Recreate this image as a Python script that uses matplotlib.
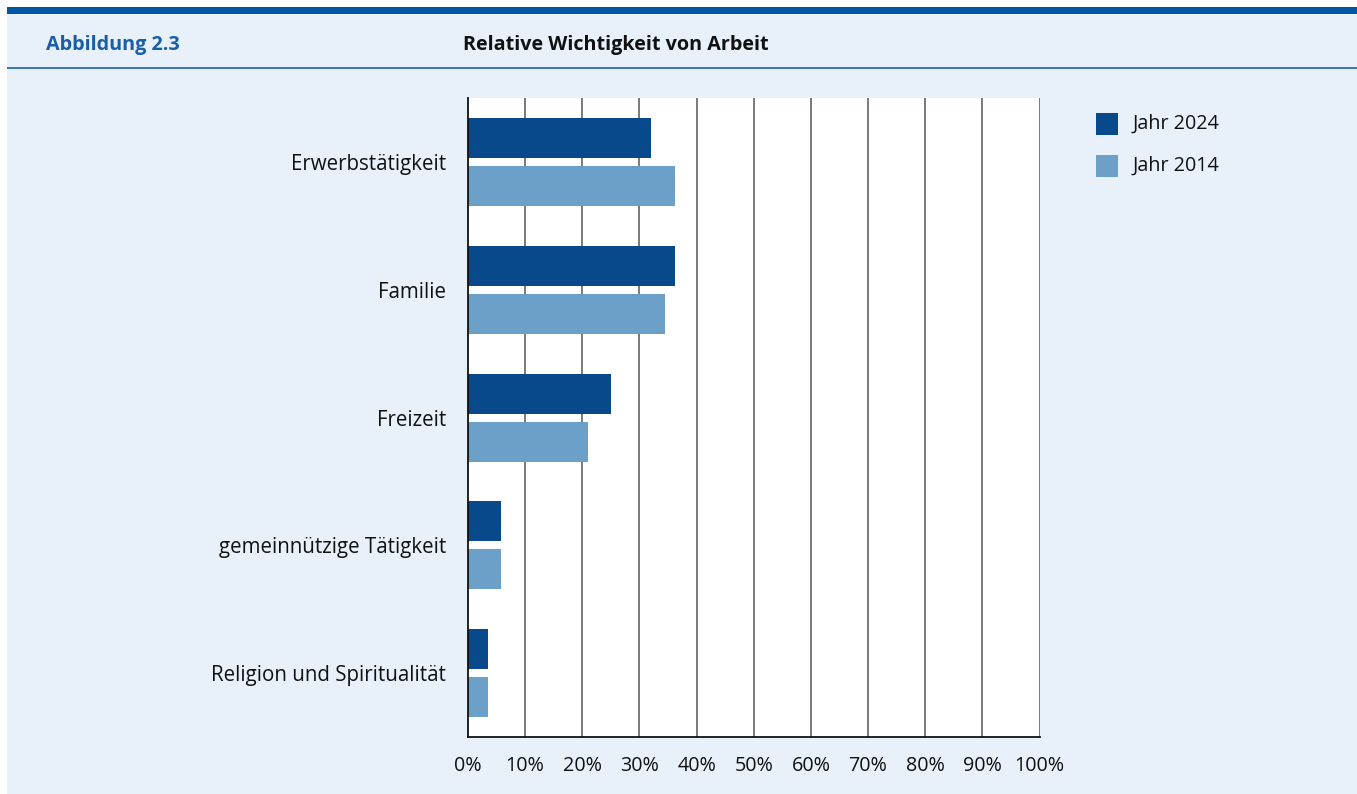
import matplotlib
matplotlib.use("Agg")
import matplotlib.pyplot as plt
from matplotlib.patches import Rectangle
import numpy as np

plt.rcParams['font.family'] = ['Open Sans', 'DejaVu Sans']

categories = ["Erwerbstätigkeit", "Familie", "Freizeit",
              "gemeinnützige Tätigkeit", "Religion und Spiritualität"]
series_names = ["Jahr 2024", "Jahr 2014"]
values_2024 = [32.1, 36.3, 25.0, 5.8, 3.5]
values_2014 = [36.3, 34.5, 21.0, 5.8, 3.5]
xticks = [0, 10, 20, 30, 40, 50, 60, 70, 80, 90, 100]
xtick_labels = [f"{t}%" for t in xticks]

dark = "#07498a"
light = "#6ca0c8"
series_colors = [dark, light]
bg = "#e8f0fa"
topblue = "#0055a4"
headblue = "#1a5ea8"
FS = 14.2

W, H = 1357, 794
fig = plt.figure(figsize=(W / 100, H / 100), dpi=100)
fig.patch.set_facecolor("white")

# background panel
fig.add_artist(Rectangle((7 / W, 0), 1 - 7 / W, 1 - 7 / H, transform=fig.transFigure,
                         facecolor=bg, edgecolor="none", zorder=0))
# top thick bar
fig.add_artist(Rectangle((7 / W, 1 - 14 / H), 1 - 7 / W, 7 / H, transform=fig.transFigure,
                         facecolor=topblue, edgecolor="none", zorder=1))
# header separator
fig.add_artist(Rectangle((7 / W, 1 - 68.5 / H), 1 - 7 / W, 2 / H, transform=fig.transFigure,
                         facecolor="#3a78b8", edgecolor="none", zorder=1))

fig.text(46 / W, 1 - 45 / H, "Abbildung 2.3", color=headblue, fontsize=FS,
         fontweight="bold", ha="left", va="center")
fig.text(463 / W, 1 - 45 / H, "Relative Wichtigkeit von Arbeit", color="#111111",
         fontsize=FS, fontweight="bold", ha="left", va="center")

left, right, top, bottom = 468 / W, 1039.5 / W, 98 / H, 737 / H
ax = fig.add_axes([left, 1 - bottom, right - left, bottom - top])
ax.set_facecolor("white")

y = np.arange(len(categories))
bh = 40 / 127.8
off = 24 / 127.8
ax.barh(y - off, values_2024, height=bh, color=dark, label=series_names[0], zorder=3)
ax.barh(y + off, values_2014, height=bh, color=light, label=series_names[1], zorder=3)

ax.set_xlim(0, 100)
ax.set_ylim(len(categories) - 0.5, -0.5)
ax.set_xticks(xticks)
ax.set_xticklabels(xtick_labels)
ax.set_yticks(y)
ax.set_yticklabels(categories)
ax.tick_params(axis="both", length=0, labelsize=FS, colors="#111111")
ax.tick_params(axis="x", pad=13.5)
ax.tick_params(axis="y", pad=16, labelsize=14.8)

for t in xticks[1:]:
    ax.axvline(t, color="#6e6e6e", linewidth=1.3, zorder=1)

for s in ["top", "right"]:
    ax.spines[s].set_visible(False)
for s in ["left", "bottom"]:
    ax.spines[s].set_color("#111111")
    ax.spines[s].set_linewidth(1.3)
    ax.spines[s].set_zorder(4)

# legend (drawn manually to match the square swatches)
for i, (name, col) in enumerate(zip(series_names, series_colors)):
    ytop = 113 + i * 42
    fig.add_artist(Rectangle((1096 / W, 1 - (ytop + 22) / H), 22 / W, 22 / H,
                             transform=fig.transFigure, facecolor=col,
                             edgecolor="none", zorder=2))
    fig.text(1133 / W, 1 - (ytop + 11) / H, name, fontsize=FS, color="#111111",
             ha="left", va="center")

fig.savefig("out.png", dpi=100, facecolor=fig.get_facecolor())
